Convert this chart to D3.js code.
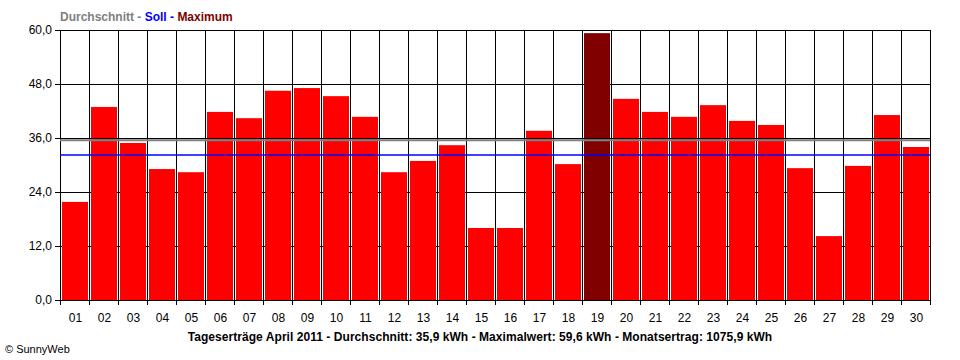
<!DOCTYPE html>
<html><head><meta charset="utf-8">
<script src="https://cdn.jsdelivr.net/npm/d3@7/dist/d3.min.js"></script>
<style>body{margin:0;background:#fff}svg{display:block}</style>
</head><body><svg id="c" width="960" height="360"></svg>
<script>
const days = ["01","02","03","04","05","06","07","08","09","10","11","12","13","14","15","16","17","18","19","20","21","22","23","24","25","26","27","28","29","30"];
const values = [21.8,42.9,34.9,29.1,28.4,41.8,40.4,46.5,47.1,45.3,40.7,28.4,30.9,34.4,16.0,16.0,37.6,30.2,59.3,44.7,41.8,40.7,43.3,39.8,38.9,29.3,14.2,29.8,41.1,34.0];
const yTicks = [0,12,24,36,48,60];
const avgLine = 35.5;
const sollLine = 32.2;
const maxDay = "19";
const legend = [{t:"Durchschnitt",c:"#808080"},{t:" - ",c:"#808080"},{t:"Soll",c:"#0000ff"},{t:" - ",c:"#0000ff"},{t:"Maximum",c:"#800000"}];
const caption = "Tageserträge April 2011 - Durchschnitt: 35,9 kWh - Maximalwert: 59,6 kWh - Monatsertrag: 1075,9 kWh";
const credit = "© SunnyWeb";

const svg = d3.select("#c");
const L=60,R=930,T=30,B=300;
const x = d3.scaleBand().domain(days).range([L,R]).padding(0);
const y = d3.scaleLinear().domain([0,60]).range([B,T]);
const fmt = v => d3.format(".1f")(v).replace(".",",");
const font = "'Liberation Sans', Arial, sans-serif";

// horizontal gridlines behind bars
svg.append("g").selectAll("line").data(yTicks.filter(v=>v!==36)).join("line")
  .attr("x1",L-5).attr("x2",R).attr("y1",d=>Math.round(y(d))+0.5).attr("y2",d=>Math.round(y(d))+0.5)
  .attr("stroke","#000").attr("stroke-width",1);
// vertical gridlines at band boundaries
const bounds = days.map(d=>x(d)).concat([R]);
svg.append("g").selectAll("line").data(bounds).join("line")
  .attr("x1",d=>d+0.5).attr("x2",d=>d+0.5).attr("y1",T).attr("y2",B+5)
  .attr("stroke","#000").attr("stroke-width",1);
// bars
svg.append("g").selectAll("rect").data(days).join("rect")
  .attr("x",d=>x(d)+2).attr("width",x.bandwidth()-3)
  .attr("y",(d,i)=>y(values[i])).attr("height",(d,i)=>B-y(values[i]))
  .attr("fill",d=>d===maxDay?"#800000":"#ff0000");
// 36 gridline on top
svg.append("line").attr("x1",L-5).attr("x2",R).attr("y1",Math.round(y(36))+0.5).attr("y2",Math.round(y(36))+0.5).attr("stroke","#000");
// average and soll lines
svg.append("line").attr("x1",L).attr("x2",R).attr("y1",y(avgLine)).attr("y2",y(avgLine)).attr("stroke","#808080").attr("stroke-width",2);
svg.append("line").attr("x1",L).attr("x2",R).attr("y1",y(sollLine)).attr("y2",y(sollLine)).attr("stroke","#0000ff").attr("stroke-width",1.5);
// zero axis line
svg.append("line").attr("x1",L-5).attr("x2",R).attr("y1",B+0.5).attr("y2",B+0.5).attr("stroke","#000");

// y tick labels
svg.append("g").selectAll("text").data(yTicks).join("text")
  .attr("x",L-8).attr("y",d=>y(d)+4).attr("text-anchor","end")
  .attr("font-family",font).attr("font-size",12).text(fmt);
// x labels
svg.append("g").selectAll("text").data(days).join("text")
  .attr("x",d=>x(d)+x.bandwidth()/2+1).attr("y",322).attr("text-anchor","middle")
  .attr("font-family",font).attr("font-size",12).text(d=>d);
// legend title
const lt = svg.append("text").attr("x",60).attr("y",21).attr("font-family",font).attr("font-size",12).attr("font-weight","bold");
lt.selectAll("tspan").data(legend).join("tspan").attr("fill",d=>d.c).text(d=>d.t);
// caption
svg.append("text").attr("x",480).attr("y",341).attr("text-anchor","middle").attr("font-family",font)
  .attr("font-size",12).attr("font-weight","bold").attr("letter-spacing",0.05).text(caption);
svg.append("text").attr("x",5).attr("y",353).attr("font-family",font).attr("font-size",11).text(credit);
</script></body></html>
